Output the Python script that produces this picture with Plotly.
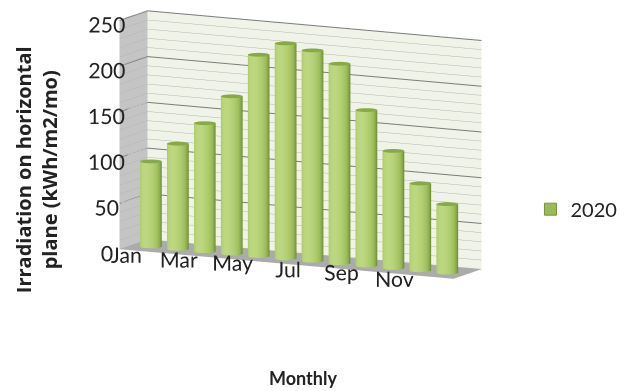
import numpy as np
import plotly.graph_objects as go

# Monthly irradiation on a horizontal plane (kWh/m2/mo)
months = ["Jan", "Feb", "Mar", "Apr", "May", "Jun",
          "Jul", "Aug", "Sep", "Oct", "Nov", "Dec"]
irradiation = [93, 115, 140, 172, 220, 235, 230, 218, 170, 128, 95, 75]
series_name = "2020"
x_tick_labels = ["Jan", "Mar", "May", "Jul", "Sep", "Nov"]
z_major_ticks = [0, 50, 100, 150, 200, 250]
z_minor_step = 10

FONT = "Lato"
X_RANGE = [-0.7, len(months) - 0.3]
Y_RANGE = [0.0, 1.0]
Z_RANGE = [0, 250]
ASPECT = dict(x=2.13, y=0.35, z=1.32)

# camera: viewed from the front-right, slightly above
VIEW = np.array([0.447, -0.877, 0.174])
EYE_DIST = 2.0
CENTER_Z = -0.18

# radius in data units, kept circular in world space
r_x = 0.36
x_unit = ASPECT["x"] / (X_RANGE[1] - X_RANGE[0])
y_unit = ASPECT["y"] / (Y_RANGE[1] - Y_RANGE[0])
r_y = r_x * x_unit / y_unit
y_center = 0.45
N_SEG = 48

# shading of the cylinder wall, dark edges and a highlight left of centre
DARK = np.array([0x5c, 0x7a, 0x22])
MID = np.array([0x9b, 0xbb, 0x59])
LIGHT = np.array([0xbd, 0xd8, 0x80])
TOP = "#88aa46"
theta_view = np.arctan2(VIEW[1], VIEW[0])
theta_hi = theta_view - np.radians(30)


def side_colour(theta):
    t = np.cos(theta - theta_hi)
    if t >= 0.3:
        f = (t - 0.3) / 0.7
        c = MID + (LIGHT - MID) * f
    else:
        f = (0.3 - t) / 1.3
        c = MID + (DARK - MID) * min(1.0, f * 1.6)
    c = np.clip(c, 0, 255).astype(int)
    return "#%02x%02x%02x" % tuple(c)


def cylinder(xc, height):
    """Vertices/faces of a closed cylinder standing on the floor."""
    th = np.linspace(0, 2 * np.pi, N_SEG, endpoint=False)
    xs = xc + r_x * np.cos(th)
    ys = y_center + r_y * np.sin(th)
    # side ring (bottom, top), then separate top-cap ring + centre
    vx = np.concatenate([xs, xs, xs, [xc]])
    vy = np.concatenate([ys, ys, ys, [y_center]])
    vz = np.concatenate([np.zeros(N_SEG), np.full(N_SEG, height),
                         np.full(N_SEG, height), [height]])
    side_cols = [side_colour(t) for t in th]
    vcol = side_cols + side_cols + [TOP] * (N_SEG + 1)
    i, j, k = [], [], []
    for s in range(N_SEG):
        a, b = s, (s + 1) % N_SEG
        i += [a, b]
        j += [b, b + N_SEG]
        k += [a + N_SEG, a + N_SEG]
    top_c = 3 * N_SEG
    for s in range(N_SEG):
        a, b = s + 2 * N_SEG, (s + 1) % N_SEG + 2 * N_SEG
        i.append(a)
        j.append(b)
        k.append(top_c)
    return vx, vy, vz, i, j, k, vcol


fig = go.Figure()

for idx, val in enumerate(irradiation):
    vx, vy, vz, i, j, k, vcol = cylinder(idx, val)
    fig.add_trace(go.Mesh3d(
        x=vx, y=vy, z=vz, i=i, j=j, k=k, vertexcolor=vcol,
        flatshading=False,
        lighting=dict(ambient=1.0, diffuse=0.0, specular=0.0,
                      roughness=1.0, fresnel=0.0),
        hoverinfo="skip", showlegend=False, name=months[idx]))

# darker major gridlines on back wall and side wall
for zv in z_major_ticks[1:]:
    fig.add_trace(go.Scatter3d(
        x=[X_RANGE[0], X_RANGE[0], X_RANGE[1]],
        y=[Y_RANGE[0], Y_RANGE[1], Y_RANGE[1]],
        z=[zv, zv, zv], mode="lines",
        line=dict(color="#767676", width=2),
        hoverinfo="skip", showlegend=False))

# legend entry
fig.add_trace(go.Scatter(
    x=[None], y=[None], mode="markers", name=series_name,
    marker=dict(symbol="square", size=12, color="#9bbb59",
                line=dict(color="#77933c", width=1))))

z_vals = list(range(Z_RANGE[0], Z_RANGE[1] + 1, z_minor_step))
z_text = [str(v) if v in z_major_ticks else "" for v in z_vals]
x_vals = [months.index(m) for m in x_tick_labels]

eye = VIEW * EYE_DIST
fig.update_layout(
    width=633, height=391,
    margin=dict(l=0, r=0, t=0, b=0),
    paper_bgcolor="white", plot_bgcolor="white",
    font=dict(family=FONT, color="#222222"),
    xaxis=dict(visible=False, domain=[0.9, 0.91]),
    yaxis=dict(visible=False, domain=[0.0, 0.01]),
    showlegend=True,
    legend=dict(x=0.838, y=0.465, xanchor="left", yanchor="middle",
                font=dict(size=20, family=FONT, color="#222222"),
                bgcolor="rgba(0,0,0,0)"),
    scene=dict(
        domain=dict(x=[0.1, 0.85], y=[0.1, 1.0]),
        aspectmode="manual", aspectratio=ASPECT,
        camera=dict(eye=dict(x=eye[0], y=eye[1], z=eye[2] + CENTER_Z),
                    center=dict(x=0, y=0, z=CENTER_Z),
                    projection=dict(type="orthographic")),
        xaxis=dict(range=X_RANGE, tickvals=x_vals, ticktext=x_tick_labels,
                   tickangle=0, ticks="outside", ticklen=220,
                   tickcolor="rgba(0,0,0,0)",
                   showgrid=False, showbackground=True,
                   backgroundcolor="#c4c4c4", showline=False,
                   zeroline=False, title=dict(text=""), showspikes=False,
                   tickfont=dict(size=16, family=FONT, color="#222222")),
        yaxis=dict(range=Y_RANGE, showticklabels=False, showgrid=False,
                   showbackground=True, backgroundcolor="#f0f4e8",
                   showline=False, zeroline=False, title=dict(text=""),
                   showspikes=False, ticks=""),
        zaxis=dict(range=Z_RANGE, tickvals=z_vals, ticktext=z_text,
                   tickangle=0, ticks="outside", ticklen=50,
                   tickcolor="rgba(0,0,0,0)",
                   showgrid=True, gridcolor="#b4b4b4", gridwidth=1,
                   showbackground=True, backgroundcolor="#ababab",
                   showline=False, zeroline=False, title=dict(text=""),
                   showspikes=False,
                   tickfont=dict(size=16, family=FONT, color="#222222")),
    ),
    annotations=[
        dict(text="<b>Irradiation on horizontal<br>plane (kWh/m2/mo)</b>",
             xref="paper", yref="paper", x=0.057, y=0.565,
             xanchor="center", yanchor="middle",
             showarrow=False, textangle=-90,
             font=dict(size=20, family="Open Sans", color="#222222")),
        dict(text="<b>Monthly</b>", xref="paper", yref="paper",
             x=0.478, y=0.033, xanchor="center", yanchor="middle",
             showarrow=False,
             font=dict(size=18, family=FONT, color="#222222")),
    ],
)

fig.write_html("out.html")
